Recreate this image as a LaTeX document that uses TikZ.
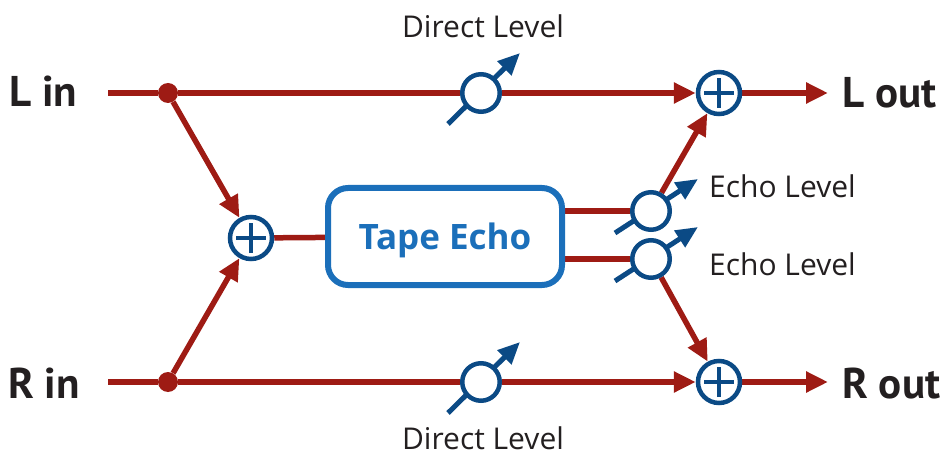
\documentclass[tikz,border=0pt]{standalone}
\usepackage{fontspec}
\setmainfont{Open Sans}
\newfontfamily\iofont{PT Sans}
\usetikzlibrary{arrows.meta,backgrounds}
\definecolor{Wire}{HTML}{9E1B14}
\definecolor{Navy}{HTML}{0B4A85}
\definecolor{BoxBlue}{HTML}{1B6FBA}
\definecolor{Ink}{HTML}{231F20}

\begin{document}
\begin{tikzpicture}[
  x=1pt, y=-1pt,
  wire/.style={Wire, line width=5.5pt},
  arr/.style={wire, -{Triangle[length=22pt,width=20pt]}},
  knob/.style={circle, draw=Navy, line width=4.5pt, fill=white, minimum size=37.5pt, inner sep=0pt},
  mixer/.style={circle, draw=Navy, line width=4.5pt, fill=white, minimum size=42pt, inner sep=0pt,
    path picture={\draw[Navy, line width=4.5pt]
      ([xshift=-15pt]path picture bounding box.center) -- ([xshift=15pt]path picture bounding box.center)
      ([yshift=-15pt]path picture bounding box.center) -- ([yshift=15pt]path picture bounding box.center);}},
  junc/.style={circle, fill=Wire, minimum size=20pt, inner sep=0pt},
  turn/.style={Navy, line width=5pt, -{Triangle[length=22pt,width=19pt]}},
  io/.style={font=\iofont\fontsize{43}{48}\selectfont\bfseries, text=Ink, inner sep=0pt, anchor=base west},
  lvl/.style={font=\fontsize{30}{36}\selectfont, text=Ink, inner sep=0pt},
  fx/.style={draw=BoxBlue, line width=6pt, rounded corners=20pt, fill=white, text=BoxBlue,
    minimum width=234pt, minimum height=97pt, font=\fontsize{35}{40}\selectfont\bfseries,
    text height=25pt, text depth=0pt}
]
\useasboundingbox (0,0) rectangle (945,457);

% inputs and outputs
\node[io] (Lin) at (9,107) {L in};
\node[io] (Rin) at (8,398) {R in};
\node[io] (Lout) at (842,108) {L out};
\node[io] (Rout) at (842,398) {R out};

\coordinate (Lst) at (108,93);
\coordinate (Rst) at (108,382);
\node[junc] (Ldot) at (168,93) {};
\node[junc] (Rdot) at (168,382) {};
\node[knob] (Ldir) at (481,93) {};
\node[knob] (Rdir) at (481,382) {};
\node[mixer] (Lsum) at (719,93) {};
\node[mixer] (Rsum) at (719,382) {};
\node[mixer] (Msum) at (251,238) {};
\node[fx] (echo) at (445,236.5) {Tape Echo};
\node[knob] (Ek1) at (651,211) {};
\node[knob] (Ek2) at (651,259) {};

% level labels
\node[lvl, anchor=base] (dirTop) at (483,38) {Direct Level};
\node[lvl, anchor=base] (dirBot) at (483,449) {Direct Level};
\node[lvl, anchor=base west] (ekTop) at (709,198) {Echo Level};
\node[lvl, anchor=base west] (ekBot) at (709,275) {Echo Level};

\begin{scope}[on background layer]
\draw[wire] (Lst) -- (Ldot) -- (Ldir);
\draw[wire] (Rst) -- (Rdot) -- (Rdir);
\draw[arr] (Ldir) -- (Lsum);
\draw[arr] (Rdir) -- (Rsum);
\draw[arr, shorten >=14pt] (Lsum) -- (Lsum -| Lout.west);
\draw[arr, shorten >=14pt] (Rsum) -- (Rsum -| Rout.west);
\draw[arr] (Ldot) -- (Msum);
\draw[arr] (Rdot) -- (Msum);
\draw[wire] (Msum) -- (echo);
\draw[wire] (echo.east |- Ek1) -- (Ek1);
\draw[wire] (echo.east |- Ek2) -- (Ek2);
\draw[arr] (Ek1) -- (Lsum);
\draw[arr] (Ek2) -- (Rsum);
% knob pointers
\draw[turn] ([shift={(-33,31)}]Ldir.center) -- ([shift={(39,-40)}]Ldir.center);
\draw[turn] ([shift={(-33,31)}]Rdir.center) -- ([shift={(39,-40)}]Rdir.center);
\draw[turn] ([shift={(-36,22)}]Ek1.center) -- ([shift={(47,-32)}]Ek1.center);
\draw[turn] ([shift={(-36,22)}]Ek2.center) -- ([shift={(47,-32)}]Ek2.center);
\end{scope}
\end{tikzpicture}
\end{document}
